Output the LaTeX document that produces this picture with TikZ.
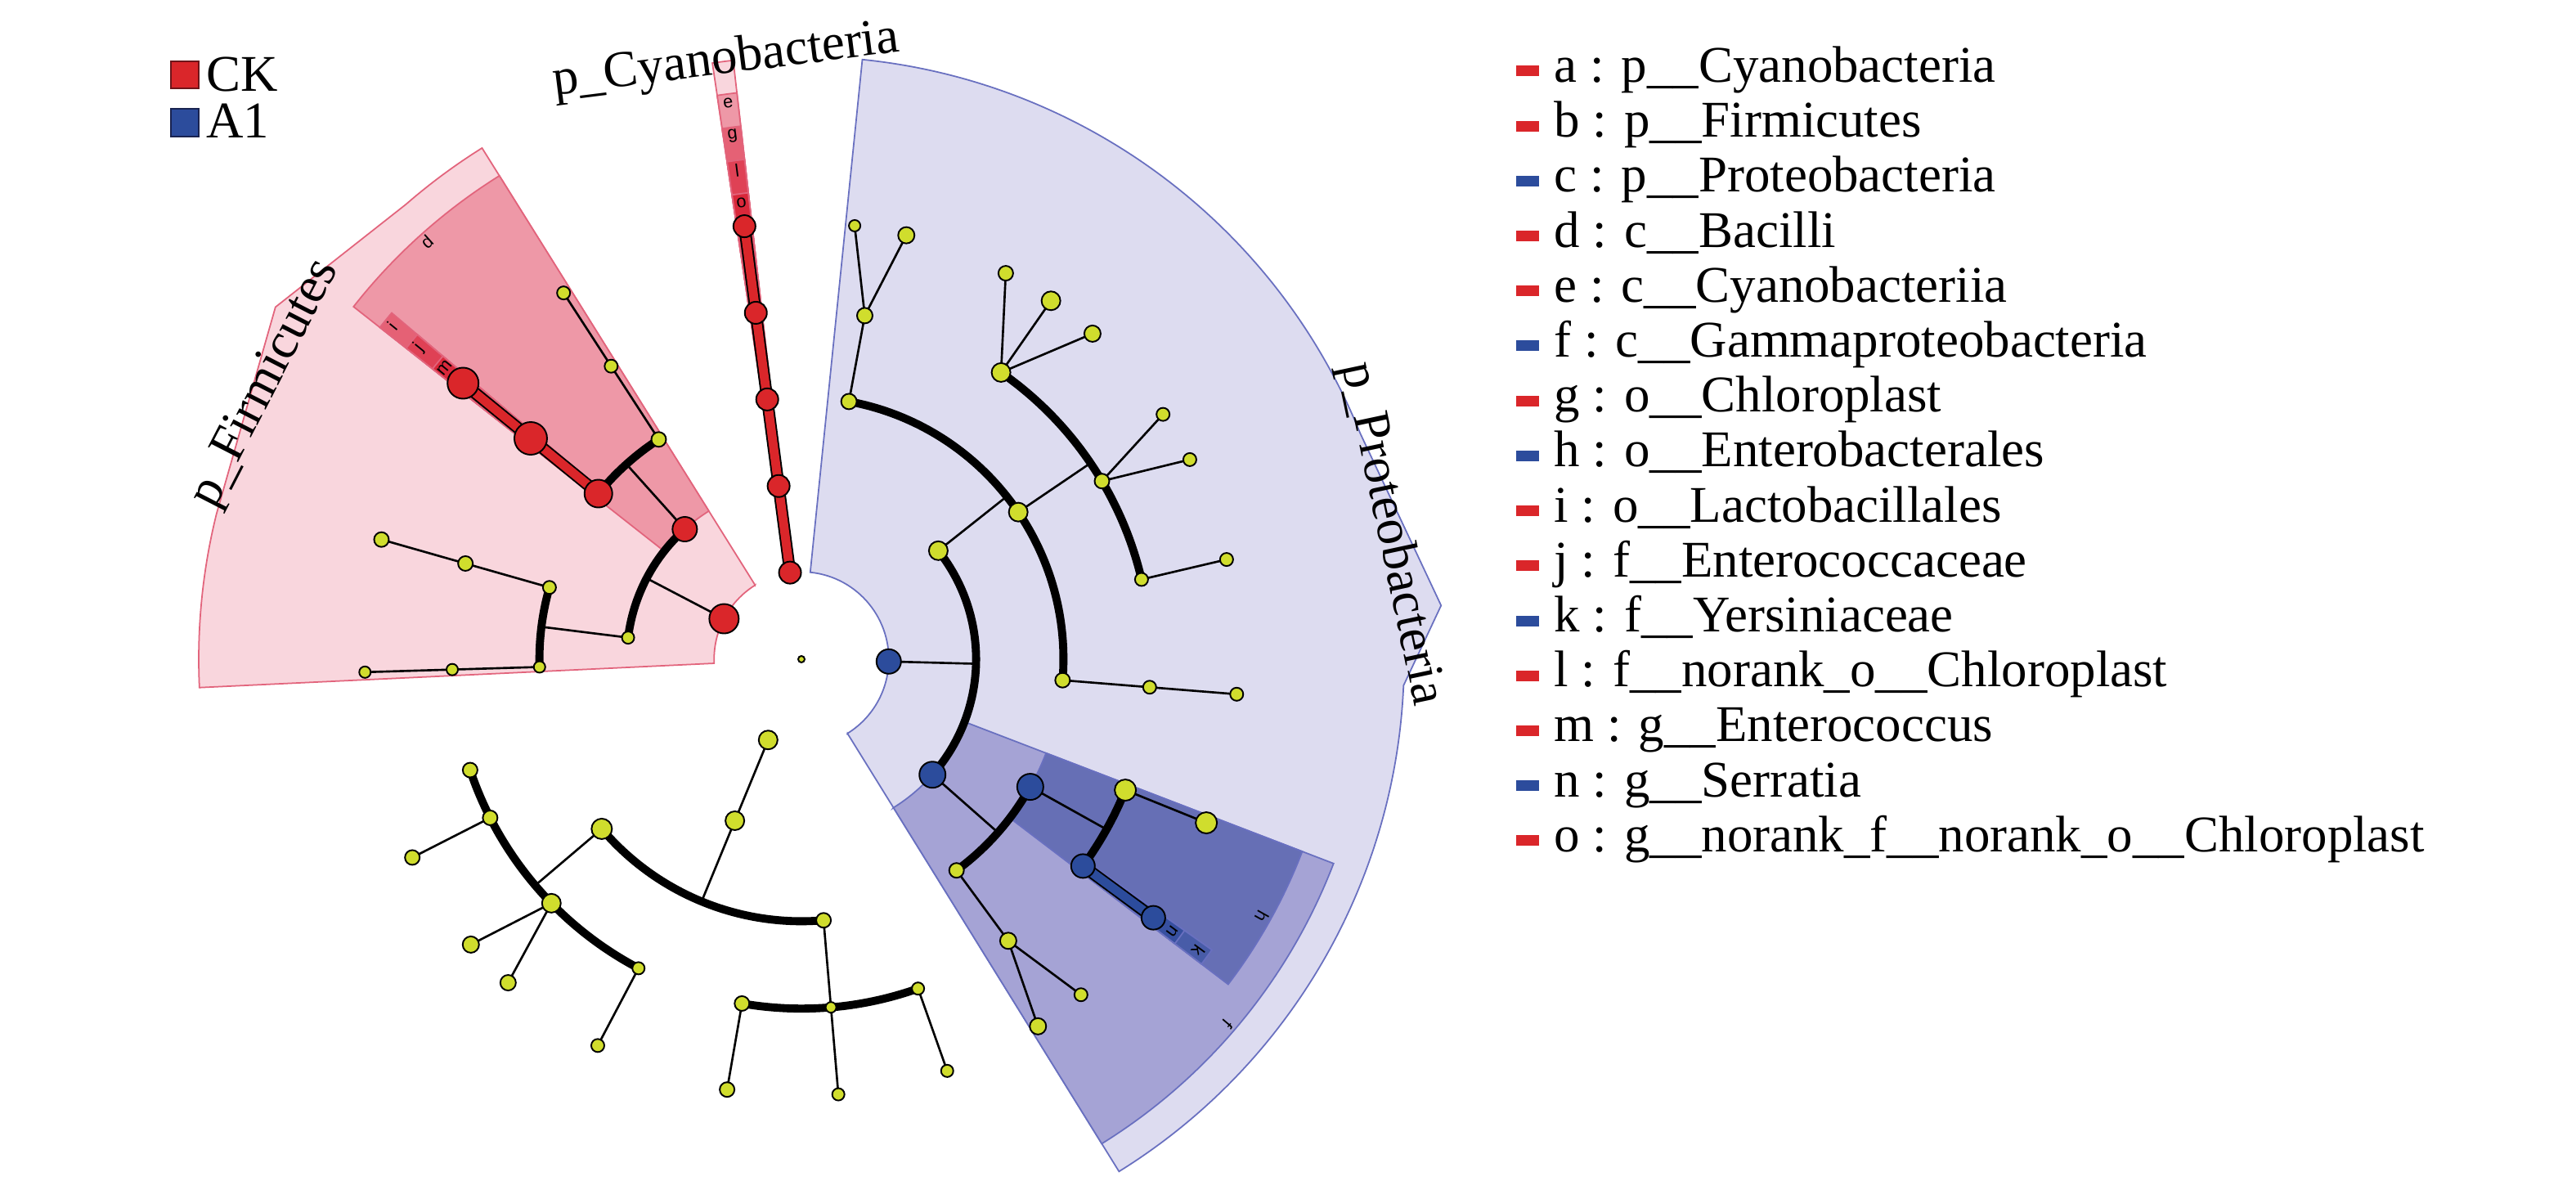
\documentclass[tikz,border=0pt]{standalone}
\usepackage{fontspec}
\setmainfont{Liberation Serif}
\newfontfamily\lettfont{Liberation Sans}
\pgfdeclarelayer{sect}
\pgfdeclarelayer{edg}
\pgfsetlayers{sect,edg,main}
\definecolor{R1}{RGB}{249,214,221}
\definecolor{R2}{RGB}{238,152,167}
\definecolor{R3}{RGB}{229,97,117}
\definecolor{R4}{RGB}{223,65,85}
\definecolor{R5}{RGB}{217,40,58}
\definecolor{RL}{RGB}{226,100,124}
\definecolor{B1}{RGB}{221,220,240}
\definecolor{B2}{RGB}{165,163,213}
\definecolor{B3}{RGB}{102,111,181}
\definecolor{B4}{RGB}{72,92,168}
\definecolor{B5}{RGB}{55,80,160}
\definecolor{BL}{RGB}{105,112,192}
\definecolor{nodeR}{RGB}{218,38,42}
\definecolor{nodeB}{RGB}{44,76,156}
\definecolor{nodeY}{RGB}{208,221,45}
\newcommand\wedgeband[5]{\filldraw[#5] (#1:#3) -- (#1:#4) arc[start angle=#1,end angle=#2,radius=#4 cm] -- (#2:#3) arc[start angle=#2,end angle=#1,radius=#3 cm] -- cycle;}
\begin{document}
\begin{tikzpicture}[
  nd/.style={circle, draw=black, line width=0.55pt, inner sep=0pt, minimum size=#1},
  yn/.style={nd=#1, fill=nodeY},
  rn/.style={nd=#1, fill=nodeR},
  bn/.style={nd=#1, fill=nodeB},
  thinl/.style={line width=0.75pt, draw=black},
  arcl/.style={line width=2.8pt, draw=black},
  redlink/.style={draw=black, line width=0.55pt, double=nodeR, double distance=3.1pt},
  bluelink/.style={draw=black, line width=0.55pt, double=nodeB, double distance=3.1pt},
  sR1/.style={fill=R1, draw=RL, line width=0.5pt},
  sR2/.style={fill=R2, draw=RL, line width=0.5pt},
  sR3/.style={fill=R3, draw=RL, line width=0.5pt},
  sR4/.style={fill=R4, draw=RL, line width=0.5pt},
  sR5/.style={fill=R5, draw=RL, line width=0.5pt},
  sB1/.style={fill=B1, draw=BL, line width=0.5pt},
  sB2/.style={fill=B2, draw=BL, line width=0.5pt},
  sB3/.style={fill=B3, draw=BL, line width=0.5pt},
  sB4/.style={fill=B4, draw=BL, line width=0.5pt},
  sB5/.style={fill=B5, draw=BL, line width=0.5pt},
  lett/.style={font=\lettfont\fontsize{6.2pt}{6.5pt}\selectfont, inner sep=0pt},
  phylab/.style={font=\fontsize{17.9pt}{20pt}\selectfont, anchor=base, inner sep=0pt},
  legtxt/.style={font=\fontsize{17.9pt}{20pt}\selectfont, anchor=base west, inner sep=0pt},
  legbar/.style={minimum width=0.28cm, minimum height=0.13cm, inner sep=0pt},
  legsq/.style={minimum size=0.334cm, inner sep=0pt, line width=0.6pt}
]
\useasboundingbox (0,0) rectangle (31.5,14.54);
\begin{scope}[shift={(9.80,6.48)}]
\def\LA{1.068}\def\LB{2.136}\def\LC{3.204}\def\LD{4.272}\def\LE{5.34}
% ---------- shaded clades ----------
\begin{pgfonlayer}{sect}
% Firmicutes
\filldraw[sR1] (122:\LA) -- (122:7.37) arc[start angle=122,end angle=131,radius=7.37cm] -- (146.2:7.74) -- (166:7.37) arc[start angle=166,end angle=182.7,radius=7.37cm] -- (182.7:\LA) arc[start angle=182.7,end angle=122,radius=\LA cm] -- cycle;
\wedgeband{122}{141.8}{\LB}{6.97}{sR2}
\wedgeband{139.8}{141.8}{\LC}{6.56}{sR3}
\wedgeband{139.8}{141.8}{\LD}{6.15}{sR4}
\wedgeband{139.8}{141.8}{\LE}{5.74}{sR5}
% Cyanobacteria
\wedgeband{96.5}{98.5}{\LA}{7.37}{sR1}
\wedgeband{96.5}{98.5}{\LB}{6.97}{sR2}
\wedgeband{96.5}{98.5}{\LC}{6.56}{sR3}
\wedgeband{96.5}{98.5}{\LD}{6.15}{sR4}
\wedgeband{96.5}{98.5}{\LE}{5.74}{sR5}
% Proteobacteria
\filldraw[sB1] (-58.2:\LA) -- (-58.2:7.37) arc[start angle=-58.2,end angle=-2.5,radius=7.37cm] -- (4.8:7.85) -- (22:7.37) arc[start angle=22,end angle=84.2,radius=7.37cm] -- (84.2:\LA) arc[start angle=84.2,end angle=-58.2,radius=\LA cm] -- cycle;
\wedgeband{-58.2}{-21}{\LB}{6.97}{sB2}
\wedgeband{-37.3}{-21}{\LC}{6.56}{sB3}
\wedgeband{-37.3}{-35.3}{\LD}{6.15}{sB4}
\wedgeband{-37.3}{-35.3}{\LE}{5.74}{sB5}
% band letters
\node[lett, rotate=7.5] (lte) at (97.5:6.86) {e};
\node[lett, rotate=7.5] (ltg) at (97.5:6.45) {g};
\node[lett, rotate=7.5] (ltl) at (97.5:6.03) {l};
\node[lett, rotate=7.5] (lto) at (97.5:5.63) {o};
\node[lett, rotate=41.9] (ltd) at (131.9:6.86) {d};
\node[lett, rotate=50.8] (lti) at (140.8:6.45) {i};
\node[lett, rotate=50.8] (ltj) at (140.8:6.03) {j};
\node[lett, rotate=50.8] (ltm) at (140.8:5.63) {m};
\node[lett, rotate=-130.5] (ltf) at (-40.5:6.86) {f};
\node[lett, rotate=-119.2] (lth) at (-29.2:6.45) {h};
\node[lett, rotate=-126.3] (ltk) at (-36.3:6.03) {k};
\node[lett, rotate=-126.3] (ltn) at (-36.3:5.63) {n};
\end{pgfonlayer}
% ---------- nodes ----------
\node[yn=0.08cm] (root) at (0,0) {};
% Firmicutes
\node[rn=0.36cm] (b) at (152.4:\LA) {};
\node[rn=0.30cm] (d) at (131.9:\LB) {};
\node[yn=0.15cm] (fc2) at (172.9:\LB) {};
\node[yn=0.18cm] (fo2) at (123:\LC) {};
\node[rn=0.34cm] (i) at (140.8:\LC) {};
\node[yn=0.16cm] (fo3) at (164.1:\LC) {};
\node[yn=0.14cm] (fo4) at (181.7:\LC) {};
\node[yn=0.16cm] (ff2) at (123:\LD) {};
\node[rn=0.40cm] (j) at (140.8:\LD) {};
\node[yn=0.18cm] (ff3) at (164.1:\LD) {};
\node[yn=0.14cm] (ff4) at (181.7:\LD) {};
\node[yn=0.16cm] (fg2) at (123:\LE) {};
\node[rn=0.38cm] (m) at (140.8:\LE) {};
\node[yn=0.18cm] (fg3) at (164.1:\LE) {};
\node[yn=0.14cm] (fg4) at (181.7:\LE) {};
% Cyanobacteria
\node[rn=0.27cm] (a) at (97.5:\LA) {};
\node[rn=0.27cm] (e) at (97.5:\LB) {};
\node[rn=0.27cm] (g) at (97.5:\LC) {};
\node[rn=0.27cm] (l) at (97.5:\LD) {};
\node[rn=0.27cm] (o) at (97.5:\LE) {};
% Proteobacteria
\node[bn=0.30cm] (c) at (-1.5:\LA) {};
\node[yn=0.23cm] (pc1) at (38.4:\LB) {};
\node[bn=0.32cm] (f) at (-41.4:\LB) {};
\node[yn=0.19cm] (poA) at (79.55:\LC) {};
\node[yn=0.23cm] (poB) at (34.15:\LC) {};
\node[yn=0.18cm] (poC) at (-4.6:\LC) {};
\node[bn=0.32cm] (h) at (-29.15:\LC) {};
\node[yn=0.18cm] (poD) at (-53.7:\LC) {};
\node[yn=0.19cm] (pfA) at (79.55:\LD) {};
\node[yn=0.23cm] (pfB) at (55.15:\LD) {};
\node[yn=0.18cm] (pfC) at (30.65:\LD) {};
\node[yn=0.16cm] (pfD) at (13.2:\LD) {};
\node[yn=0.16cm] (pfE) at (-4.6:\LD) {};
\node[yn=0.26cm] (pfF) at (-22:\LD) {};
\node[bn=0.29cm] (k) at (-36.3:\LD) {};
\node[yn=0.20cm] (pfG) at (-53.7:\LD) {};
\node[yn=0.14cm] (pg1) at (83:\LE) {};
\node[yn=0.20cm] (pg2) at (76.1:\LE) {};
\node[yn=0.18cm] (pg3) at (62.1:\LE) {};
\node[yn=0.23cm] (pg4) at (55.15:\LE) {};
\node[yn=0.20cm] (pg5) at (48.2:\LE) {};
\node[yn=0.16cm] (pg6) at (34.1:\LE) {};
\node[yn=0.16cm] (pg7) at (27.2:\LE) {};
\node[yn=0.16cm] (pg8) at (13.2:\LE) {};
\node[yn=0.16cm] (pg9) at (-4.6:\LE) {};
\node[yn=0.26cm] (pg10) at (-22:\LE) {};
\node[bn=0.29cm] (n) at (-36.3:\LE) {};
\node[yn=0.16cm] (pg12) at (-50.2:\LE) {};
\node[yn=0.20cm] (pg13) at (-57.2:\LE) {};
% unlabeled phylum
\node[yn=0.23cm] (q1) at (247.6:\LA) {};
\node[yn=0.23cm] (q2) at (247.6:\LB) {};
\node[yn=0.25cm] (qoX) at (220.35:\LC) {};
\node[yn=0.18cm] (qoY) at (274.85:\LC) {};
\node[yn=0.18cm] (qf1) at (198.5:\LD) {};
\node[yn=0.18cm] (qf2) at (207:\LD) {};
\node[yn=0.23cm] (qf3) at (224.3:\LD) {};
\node[yn=0.15cm] (qf4) at (242.2:\LD) {};
\node[yn=0.18cm] (qf5) at (260.2:\LD) {};
\node[yn=0.13cm] (qf6) at (274.85:\LD) {};
\node[yn=0.15cm] (qf7) at (289.5:\LD) {};
\node[yn=0.18cm] (qg2) at (207:\LE) {};
\node[yn=0.20cm] (qg3a) at (220.8:\LE) {};
\node[yn=0.19cm] (qg3b) at (227.8:\LE) {};
\node[yn=0.16cm] (qg4) at (242.2:\LE) {};
\node[yn=0.18cm] (qg5) at (260.2:\LE) {};
\node[yn=0.15cm] (qg6) at (274.85:\LE) {};
\node[yn=0.15cm] (qg7) at (289.5:\LE) {};
% junction points on arcs
\coordinate (jb) at (152.4:\LB);
\coordinate (jd) at (131.9:\LC);
\coordinate (jfc2) at (172.9:\LC);
\coordinate (jc) at (-1.5:\LB);
\coordinate (jpc1) at (38.4:\LC);
\coordinate (jpoB) at (34.15:\LD);
\coordinate (jf) at (-41.4:\LC);
\coordinate (jh) at (-29.15:\LD);
\coordinate (jq2) at (247.6:\LC);
\coordinate (jqoX) at (220.35:\LD);
% ---------- edges ----------
\begin{pgfonlayer}{edg}
% Firmicutes
\draw[thinl] (b.center) -- (jb);
\draw[arcl] (d.center) arc[start angle=131.9,end angle=172.9,radius=\LB cm];
\draw[thinl] (d.center) -- (jd);
\draw[arcl] (fo2.center) arc[start angle=123,end angle=140.8,radius=\LC cm];
\draw[thinl] (fc2.center) -- (jfc2);
\draw[arcl] (fo3.center) arc[start angle=164.1,end angle=181.7,radius=\LC cm];
\draw[thinl] (fo2.center) -- (ff2.center) -- (fg2.center);
\draw[thinl] (fo3.center) -- (ff3.center) -- (fg3.center);
\draw[thinl] (fo4.center) -- (ff4.center) -- (fg4.center);
\draw[redlink] (i.center) -- (j.center) -- (m.center);
% Cyanobacteria
\draw[redlink] (a.center) -- (e.center) -- (g.center) -- (l.center) -- (o.center);
% Proteobacteria
\draw[thinl] (c.center) -- (jc);
\draw[arcl] (pc1.center) arc[start angle=38.4,end angle=-41.4,radius=\LB cm];
\draw[thinl] (pc1.center) -- (jpc1);
\draw[arcl] (poA.center) arc[start angle=79.55,end angle=-4.6,radius=\LC cm];
\draw[thinl] (poA.center) -- (pfA.center);
\draw[thinl] (pfA.center) -- (pg1.center) (pfA.center) -- (pg2.center);
\draw[thinl] (poB.center) -- (jpoB);
\draw[arcl] (pfB.center) arc[start angle=55.15,end angle=13.2,radius=\LD cm];
\draw[thinl] (pfB.center) -- (pg3.center) (pfB.center) -- (pg4.center) (pfB.center) -- (pg5.center);
\draw[thinl] (pfC.center) -- (pg6.center) (pfC.center) -- (pg7.center);
\draw[thinl] (pfD.center) -- (pg8.center);
\draw[thinl] (poC.center) -- (pfE.center) -- (pg9.center);
\draw[thinl] (f.center) -- (jf);
\draw[arcl] (h.center) arc[start angle=-29.15,end angle=-53.7,radius=\LC cm];
\draw[thinl] (h.center) -- (jh);
\draw[arcl] (pfF.center) arc[start angle=-22,end angle=-36.3,radius=\LD cm];
\draw[thinl] (pfF.center) -- (pg10.center);
\draw[bluelink] (k.center) -- (n.center);
\draw[thinl] (poD.center) -- (pfG.center);
\draw[thinl] (pfG.center) -- (pg12.center) (pfG.center) -- (pg13.center);
% unlabeled phylum
\draw[thinl] (q1.center) -- (q2.center) -- (jq2);
\draw[arcl] (qoX.center) arc[start angle=220.35,end angle=274.85,radius=\LC cm];
\draw[thinl] (qoX.center) -- (jqoX);
\draw[arcl] (qf1.center) arc[start angle=198.5,end angle=242.2,radius=\LD cm];
\draw[thinl] (qf2.center) -- (qg2.center);
\draw[thinl] (qf3.center) -- (qg3a.center) (qf3.center) -- (qg3b.center);
\draw[thinl] (qf4.center) -- (qg4.center);
\draw[thinl] (qoY.center) -- (qf6.center);
\draw[arcl] (qf5.center) arc[start angle=260.2,end angle=289.5,radius=\LD cm];
\draw[thinl] (qf5.center) -- (qg5.center);
\draw[thinl] (qf6.center) -- (qg6.center);
\draw[thinl] (qf7.center) -- (qg7.center);
\end{pgfonlayer}
% ---------- phylum labels ----------
\node[phylab, rotate=7.2] (labA) at (97.2:7.22) {p\_Cyanobacteria};
\node[phylab, rotate=62.8] (labB) at (152.8:7.22) {p\_Firmicutes};
\node[phylab, rotate=-78] (labC) at (12:7.22) {p\_Proteobacteria};
\end{scope}
% ---------- group legend ----------
\node[legsq, fill=nodeR, draw={rgb,255:red,110;green,20;blue,25}] (sqCK) at (2.26,13.623) {};
\node[legsq, fill=nodeB, draw={rgb,255:red,25;green,35;blue,80}] (sqA1) at (2.26,13.04) {};
\node[legtxt] (txCK) at (2.517,13.423) {CK};
\node[legtxt] (txA1) at (2.517,12.857) {A1};
% ---------- biomarker legend ----------
\foreach \k/\cl/\tx in {
 0/nodeR/{a : p\_\_Cyanobacteria},
 1/nodeR/{b : p\_\_Firmicutes},
 2/nodeB/{c : p\_\_Proteobacteria},
 3/nodeR/{d : c\_\_Bacilli},
 4/nodeR/{e : c\_\_Cyanobacteriia},
 5/nodeB/{f : c\_\_Gammaproteobacteria},
 6/nodeR/{g : o\_\_Chloroplast},
 7/nodeB/{h : o\_\_Enterobacterales},
 8/nodeR/{i : o\_\_Lactobacillales},
 9/nodeR/{j : f\_\_Enterococcaceae},
 10/nodeB/{k : f\_\_Yersiniaceae},
 11/nodeR/{l : f\_\_norank\_o\_\_Chloroplast},
 12/nodeR/{m : g\_\_Enterococcus},
 13/nodeB/{n : g\_\_Serratia},
 14/nodeR/{o : g\_\_norank\_f\_\_norank\_o\_\_Chloroplast}}{
  \node[legbar, fill=\cl] (lb\k) at (18.68,{13.67-0.672*\k}) {};
  \node[legtxt] (lt\k) at (19.00,{13.535-0.672*\k}) {\tx};
}
\end{tikzpicture}
\end{document}
